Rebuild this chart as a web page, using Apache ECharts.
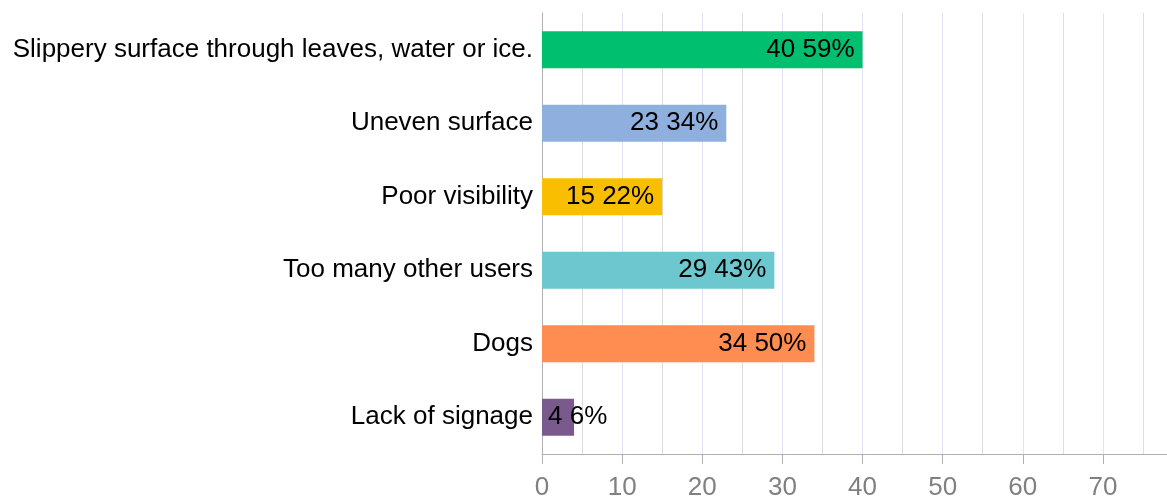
<!DOCTYPE html>
<html>
<head>
<meta charset="utf-8">
<script src="https://cdn.jsdelivr.net/npm/echarts@6/dist/echarts.min.js"></script>
<style>html,body{margin:0;padding:0;background:#fff;}#c{width:1167px;height:501px;}</style>
</head>
<body>
<div id="c"></div>
<script>
const categories = ["Slippery surface through leaves, water or ice.", "Uneven surface", "Poor visibility", "Too many other users", "Dogs", "Lack of signage"];
const counts = [40, 23, 15, 29, 34, 4];
const percents = ["59%", "34%", "22%", "43%", "50%", "6%"];
const barColors = ["#00BF6F", "#8FB0DE", "#F9BE00", "#6CC8CE", "#FF8C50", "#7A5A8C"];
const tickValues = [0, 10, 20, 30, 40, 50, 60, 70];

const chart = echarts.init(document.getElementById('c'));
const font = '"Liberation Sans", Arial, sans-serif';
chart.setOption({
  animation: false,
  grid: {left: 542, right: 0, top: 13, bottom: 47, containLabel: false},
  xAxis: [{
    type: 'value', min: 0, max: 78, interval: 5,
    axisLine: {show: true, lineStyle: {color: '#b0b0b0', width: 1}},
    axisTick: {show: true, length: 10, lineStyle: {color: '#b0b0b0'}, customValues: tickValues},
    axisLabel: {customValues: tickValues, color: '#808080', fontSize: 26, fontFamily: font, margin: 21},
    splitLine: {show: false},
    z: 3
  }, {
    type: 'value', min: 0, max: 78, interval: 5, position: 'bottom',
    axisLine: {show: false}, axisTick: {show: false}, axisLabel: {show: false},
    splitLine: {show: true, lineStyle: {color: ['#e2e2f6', '#dcdcdc'], width: 1}}
  }],
  yAxis: {
    type: 'category', data: categories, inverse: true,
    axisLine: {show: true, lineStyle: {color: '#b0b0b0'}},
    axisTick: {show: false},
    axisLabel: {color: '#000', fontSize: 26, fontFamily: font, margin: 9}
  },
  series: [{
    type: 'bar', barWidth: 37, xAxisIndex: 0,
    data: counts.map((v, i) => ({
      value: v,
      itemStyle: {color: barColors[i]},
      label: v < 10 ? {position: 'insideLeft', distance: 6} : {}
    })),
    label: {
      show: true, position: 'insideRight', distance: 8,
      color: '#000', fontSize: 26, fontFamily: font,
      formatter: p => p.value + ' ' + percents[p.dataIndex]
    }
  }]
});
</script>
</body>
</html>
